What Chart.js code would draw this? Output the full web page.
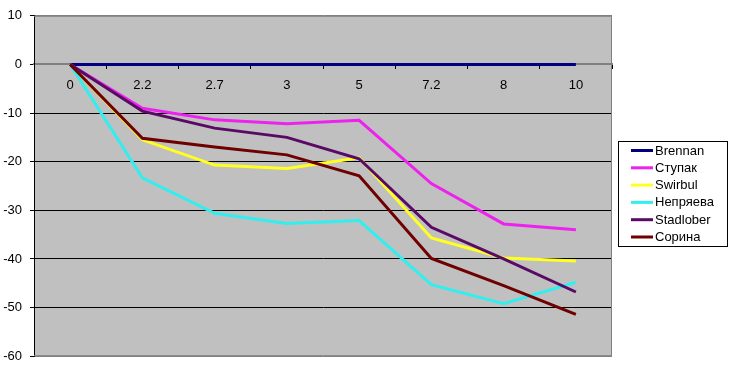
<!doctype html>
<html>
<head>
<meta charset="utf-8"/>
<script src="https://cdn.jsdelivr.net/npm/chart.js@4.4.0/dist/chart.umd.min.js"></script>
<style>
  html,body{margin:0;padding:0;background:#fff}
  .wrap{width:730px;height:372px;position:relative}
</style>
</head>
<body>
<div class="wrap"><canvas id="c" width="730" height="372"></canvas></div>
<script>
  // данные
  const categories = ['0', '2.2', '2.7', '3', '5', '7.2', '8', '10'];
  const brennan   = [0, 0, 0, 0, 0, 0, 0, 0];
  const stupak    = [0, -9.0, -11.4, -12.2, -11.5, -24.5, -32.8, -34.0];
  const swirbul   = [0, -15.5, -20.7, -21.4, -19.2, -35.7, -39.8, -40.4];
  const nepryaeva = [0, -23.3, -30.6, -32.7, -32.1, -45.3, -49.2, -44.8];
  const stadlober = [0, -9.6, -13.1, -15.0, -19.4, -33.5, -40.0, -46.8];
  const sorina    = [0, -15.2, -17.0, -18.6, -22.9, -39.9, -45.5, -51.4];
  const yTicks = [10, 0, -10, -20, -30, -40, -50, -60];

  const FONT = "Arial, 'Liberation Sans', sans-serif";

  const series = [
    { label: 'Brennan',   data: brennan,   color: '#000080' },
    { label: 'Ступак',    data: stupak,    color: '#ee22ee' },
    { label: 'Swirbul',   data: swirbul,   color: '#ffff22' },
    { label: 'Непряева',  data: nepryaeva, color: '#33eeee' },
    { label: 'Stadlober', data: stadlober, color: '#5a0a66' },
    { label: 'Сорина',    data: sorina,    color: '#6e0000' }
  ];

  // серый фон области построения
  const plotBg = {
    id: 'plotBg',
    beforeDraw(chart) {
      const { ctx, chartArea: a } = chart;
      ctx.save();
      ctx.fillStyle = '#c0c0c0';
      ctx.fillRect(a.left, a.top, a.right - a.left, a.bottom - a.top);
      ctx.restore();
    },
    afterDatasetsDraw(chart) {
      const { ctx, chartArea: a } = chart;
      ctx.save();
      ctx.strokeStyle = '#808080';
      ctx.lineWidth = 1;
      ctx.beginPath();
      ctx.moveTo(a.left, a.top + 0.5);
      ctx.lineTo(a.right - 0.5, a.top + 0.5);
      ctx.lineTo(a.right - 0.5, a.bottom - 0.5);
      ctx.lineTo(a.left, a.bottom - 0.5);
      ctx.stroke();
      ctx.restore();
    }
  };

  // легенда в рамке справа
  const boxLegend = {
    id: 'boxLegend',
    afterDraw(chart) {
      const { ctx } = chart;
      const x = 618, y = 141, w = 109, h = 105, step = 17.3;
      ctx.save();
      ctx.fillStyle = '#fff';
      ctx.fillRect(x, y, w, h);
      ctx.strokeStyle = '#000';
      ctx.lineWidth = 1;
      ctx.strokeRect(x + 0.5, y + 0.5, w, h);
      ctx.font = '13px ' + FONT;
      ctx.textBaseline = 'middle';
      chart.data.datasets.forEach((ds, i) => {
        const cy = y + 9.5 + i * step;
        ctx.strokeStyle = ds.borderColor;
        ctx.lineWidth = 3;
        ctx.beginPath();
        ctx.moveTo(631, cy);
        ctx.lineTo(653, cy);
        ctx.stroke();
        ctx.fillStyle = '#000';
        ctx.fillText(ds.label, 655, cy + 0.5);
      });
      ctx.restore();
    }
  };

  new Chart(document.getElementById('c'), {
    type: 'line',
    data: {
      labels: categories,
      datasets: series.map((s, i) => ({
        label: s.label,
        data: s.data,
        borderColor: s.color,
        backgroundColor: s.color,
        borderWidth: 3,
        pointRadius: 0,
        tension: 0,
        order: series.length - 1 - i
      }))
    },
    options: {
      responsive: false,
      animation: false,
      layout: { padding: { top: 15, bottom: 10, left: 0, right: 118 } },
      plugins: { legend: { display: false }, tooltip: { enabled: false } },
      scales: {
        x: {
          type: 'category',
          offset: true,
          position: { y: 0 },
          grid: { drawOnChartArea: false, drawTicks: true, tickLength: 4, color: '#000', offset: true },
          border: { display: true, color: '#808080', width: 2 },
          ticks: { color: '#000', font: { family: FONT, size: 13 }, padding: 9, maxRotation: 0, autoSkip: false }
        },
        y: {
          min: -60, max: 10,
          afterFit(scale) { scale.width = 34; },
          afterBuildTicks(scale) { scale.ticks = yTicks.map(v => ({ value: v })); },
          grid: {
            color: c => (c.tick && (c.tick.value === 10 || c.tick.value === -60 || c.tick.value === 0)) ? '#808080' : '#000',
            tickColor: '#000',
            tickLength: 4,
            lineWidth: 1
          },
          border: { display: true, color: '#000', width: 1 },
          ticks: { color: '#000', font: { family: FONT, size: 13 }, padding: 8 }
        }
      }
    },
    plugins: [plotBg, boxLegend]
  });
</script>
</body>
</html>
